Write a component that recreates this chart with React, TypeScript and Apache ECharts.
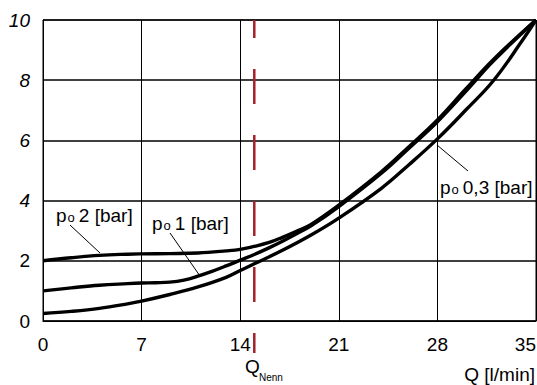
import React, { useEffect, useRef } from "react";
import * as echarts from "echarts";

// Flow rate Q [l/min] and pressure values for each curve
const qP2 = [0, 2, 4, 6, 7, 9, 11, 13, 14, 15, 16, 17, 18, 19, 21, 24, 26, 28, 30, 32, 35];
const valP2 = [2.0, 2.1, 2.18, 2.22, 2.23, 2.24, 2.26, 2.33, 2.38, 2.48, 2.6, 2.78, 2.98, 3.2, 3.85, 4.95, 5.8, 6.68, 7.7, 8.7, 10];

const qP1 = [0, 2, 4, 6, 7, 8, 9, 10, 11, 12, 13, 14, 15, 16, 17, 18, 19, 21, 24, 26, 28, 30, 32, 35];
const valP1 = [1.0, 1.1, 1.19, 1.24, 1.26, 1.27, 1.29, 1.36, 1.49, 1.65, 1.83, 2.02, 2.21, 2.42, 2.65, 2.9, 3.15, 3.8, 4.9, 5.75, 6.62, 7.62, 8.65, 10];

const qP03 = [0, 2, 4, 6, 7, 9, 11, 13, 14, 15, 17, 19, 21, 24, 26, 28, 30, 32, 34, 35];
const valP03 = [0.25, 0.32, 0.42, 0.57, 0.66, 0.88, 1.13, 1.45, 1.68, 1.9, 2.35, 2.85, 3.42, 4.4, 5.2, 6.05, 7.0, 8.0, 9.3, 10];

const qNenn = 15;
const xTicks = [0, 7, 14, 21, 28, 35];
const yTicks = [0, 2, 4, 6, 8, 10];

const FONT = "'Liberation Sans', Arial, sans-serif";

function pairs(xs: number[], ys: number[]) {
  return xs.map((x, i) => [x, ys[i]]);
}

function curve(name: string, data: number[][]) {
  return {
    name,
    type: "line",
    data,
    smooth: 0.4,
    showSymbol: false,
    symbol: "none",
    lineStyle: { color: "#000", width: 3.4 },
    z: 5,
  };
}

export default function App() {
  const ref = useRef<HTMLDivElement>(null);
  useEffect(() => {
    if (!ref.current) return;
    const chart = echarts.init(ref.current, undefined, { renderer: "svg" });
    const labelRich = {
      p: { fontSize: 19, fontFamily: FONT, color: "#000" },
      o: { fontSize: 13, fontFamily: FONT, color: "#000", padding: [4, 4, 0, 1] },
      t: { fontSize: 19, fontFamily: FONT, color: "#000" },
    };
    chart.setOption({
      animation: false,
      grid: {
        left: 43,
        top: 20,
        width: 493,
        height: 301,
        show: true,
        borderColor: "#000",
        borderWidth: 1,
        backgroundColor: "transparent",
        outerBoundsMode: "none",
        containLabel: false,
      },
      xAxis: {
        type: "value",
        min: xTicks[0],
        max: xTicks[xTicks.length - 1],
        interval: 7,
        axisLine: { show: true, lineStyle: { color: "#000", width: 1 } },
        axisTick: { show: false },
        axisLabel: {
          color: "#000",
          fontSize: 19,
          fontFamily: FONT,
          margin: 14,
          alignMaxLabel: "right",
        },
        splitLine: { show: true, lineStyle: { color: "#000", width: 1 } },
      },
      yAxis: {
        type: "value",
        min: yTicks[0],
        max: yTicks[yTicks.length - 1],
        interval: 2,
        axisLine: { show: true, lineStyle: { color: "#000", width: 1 } },
        axisTick: { show: false },
        axisLabel: {
          margin: 13,
          formatter: (v: number) => (v >= 4 ? `{i|${v}}` : `{n|${v}}`),
          rich: {
            i: { fontSize: 19, fontStyle: "italic", fontFamily: FONT, color: "#000" },
            n: { fontSize: 19, fontFamily: FONT, color: "#000" },
          },
        },
        splitLine: { show: true, lineStyle: { color: "#000", width: 1.6 } },
      },
      series: [
        curve("p0 2 bar", pairs(qP2, valP2)),
        curve("p0 1 bar", pairs(qP1, valP1)),
        curve("p0 0,3 bar", pairs(qP03, valP03)),
        {
          name: "QNenn",
          type: "line",
          data: [
            [qNenn, 10],
            [qNenn, -1.06],
          ],
          clip: false,
          showSymbol: false,
          symbol: "none",
          lineStyle: { color: "#a3232b", width: 2.5, type: [35, 31], dashOffset: 17 },
          z: 4,
        },
      ],
      graphic: [
        {
          type: "line",
          shape: { x1: 70, y1: 225, x2: 100, y2: 253 },
          style: { stroke: "#000", lineWidth: 1 },
        },
        {
          type: "line",
          shape: { x1: 170, y1: 233, x2: 200, y2: 276 },
          style: { stroke: "#000", lineWidth: 1 },
        },
        {
          type: "line",
          shape: { x1: 437, y1: 145, x2: 468, y2: 171 },
          style: { stroke: "#000", lineWidth: 1 },
        },
        {
          type: "text",
          x: 56,
          y: 215,
          style: {
            text: "{p|p}{o|o}{t|2 [bar]}",
            rich: labelRich,
            verticalAlign: "middle",
            align: "left",
          },
        },
        {
          type: "text",
          x: 152,
          y: 223,
          style: {
            text: "{p|p}{o|o}{t|1 [bar]}",
            rich: labelRich,
            verticalAlign: "middle",
            align: "left",
          },
        },
        {
          type: "text",
          x: 440,
          y: 187,
          style: {
            text: "{p|p}{o|o}{t|0,3 [bar]}",
            rich: labelRich,
            verticalAlign: "middle",
            align: "left",
          },
        },
        {
          type: "text",
          x: 245,
          y: 366,
          style: {
            text: "Q",
            fontSize: 19,
            fontFamily: FONT,
            fill: "#000",
            verticalAlign: "middle",
            align: "left",
          },
        },
        {
          type: "text",
          x: 259,
          y: 377,
          style: {
            text: "Nenn",
            fontSize: 10,
            fontFamily: FONT,
            fill: "#000",
            verticalAlign: "middle",
            align: "left",
          },
        },
        {
          type: "text",
          x: 535,
          y: 374,
          style: {
            text: "Q [l/min]",
            fontSize: 19,
            fontFamily: FONT,
            fill: "#000",
            verticalAlign: "middle",
            align: "right",
          },
        },
      ],
    });
    return () => chart.dispose();
  }, []);
  return (
    <div
      ref={ref}
      style={{ position: "absolute", left: 0, top: 0, width: 537, height: 385 }}
    />
  );
}
